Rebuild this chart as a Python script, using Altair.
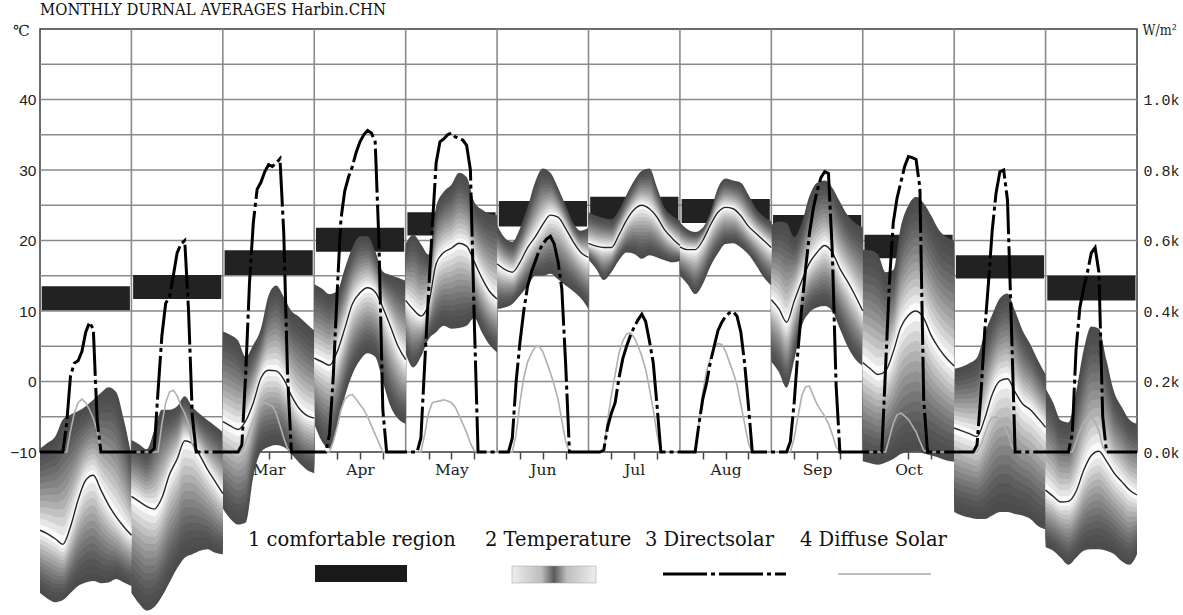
import json
import altair as alt
import pandas as pd

# ---------------- data ----------------
MONTHS = ["Jan", "Feb", "Mar", "Apr", "May", "Jun", "Jul", "Aug", "Sep", "Oct", "Nov", "Dec"]
LABELED_MONTHS = ["Mar", "Apr", "May", "Jun", "Jul", "Aug", "Sep", "Oct"]

HOURS_T = list(range(0, 25, 2))   # temperature samples (hours)
HOURS_S = list(range(0, 25))      # solar samples (hours)

TEMP_UPPER = [
    [-9.5, -8.7, -7.8, -5.4, -4.7, -4.2, -3.5, -2.6, -1.6, -0.8, -1.5, -5.4, -10.5],
    [-8.3, -8.9, -9.6, -6.9, -4.0, -4.0, -3.5, -2.1, -3.6, -4.6, -5.5, -6.3, -7.2],
    [7.1, 6.6, 5.8, 3.5, 5.2, 7.5, 12.2, 13.6, 12.0, 10.0, 9.2, 8.2, 7.2],
    [13.8, 13.2, 12.4, 12.8, 16.0, 19.0, 20.6, 20.6, 18.5, 15.6, 15.1, 14.7, 14.3],
    [19.5, 20.8, 19.5, 18.0, 24.8, 26.9, 27.9, 29.6, 29.0, 25.5, 24.4, 23.8, 23.6],
    [22.2, 20.4, 19.8, 21.7, 24.7, 28.3, 30.2, 29.6, 27.5, 25.0, 22.5, 21.4, 21.8],
    [24.0, 23.5, 23.2, 23.0, 24.3, 26.5, 28.5, 29.9, 30.2, 27.5, 24.6, 23.5, 22.8],
    [22.6, 21.6, 21.2, 21.8, 24.0, 27.5, 28.8, 28.5, 28.2, 26.5, 24.5, 23.4, 22.7],
    [22.2, 22.7, 22.5, 20.5, 22.5, 26.3, 28.2, 28.5, 27.5, 25.5, 23.6, 22.5, 21.9],
    [18.7, 18.6, 18.0, 15.5, 15.8, 22.0, 25.0, 26.2, 25.3, 23.5, 21.5, 20.5, 20.0],
    [1.8, 2.1, 2.6, 3.4, 6.8, 9.5, 11.8, 12.5, 10.0, 7.2, 5.3, 3.0, 1.0],
    [-1.0, -3.0, -5.5, -5.8, -1.5, 4.5, 7.8, 7.5, 3.0, -1.5, -3.6, -5.4, -6.0],
]
TEMP_MEAN = [
    [-21.1, -21.6, -22.3, -23.1, -20.6, -16.8, -14.0, -13.3, -15.4, -17.5, -19.2, -20.6, -21.8],
    [-16.3, -17.0, -17.7, -18.1, -16.5, -13.2, -11.0, -8.4, -8.8, -10.5, -12.5, -14.2, -15.9],
    [-5.7, -6.3, -6.8, -5.6, -3.0, 0.5, 1.6, 1.5, 0.3, -2.0, -3.8, -4.8, -5.2],
    [3.3, 2.8, 2.3, 4.2, 7.5, 11.0, 12.6, 13.3, 12.7, 10.5, 7.8, 5.0, 3.1],
    [11.5, 10.2, 9.3, 11.0, 16.7, 18.3, 18.9, 19.6, 19.2, 17.0, 14.7, 12.8, 11.7],
    [16.7, 15.9, 15.5, 16.9, 19.0, 20.5, 22.3, 23.6, 23.3, 21.7, 19.8, 18.3, 17.6],
    [19.6, 19.2, 19.0, 19.0, 20.8, 22.9, 24.4, 25.0, 24.5, 23.3, 21.5, 20.3, 19.3],
    [19.1, 18.7, 18.7, 20.0, 22.2, 24.0, 24.7, 24.5, 23.5, 22.0, 21.0, 20.0, 19.0],
    [11.6, 10.3, 8.4, 11.4, 14.3, 16.8, 18.3, 19.3, 18.3, 16.0, 14.2, 12.2, 10.0],
    [2.7, 1.8, 1.0, 1.5, 4.2, 7.7, 9.4, 10.0, 9.0, 6.5, 4.7, 3.3, 2.2],
    [-6.6, -7.0, -7.4, -7.8, -5.3, -1.8, 0.1, 0.4, -1.5, -3.2, -4.0, -5.2, -6.5],
    [-15.4, -16.3, -17.1, -17.0, -15.6, -12.6, -10.5, -9.9, -11.3, -13.0, -14.2, -15.4, -16.1],
]
TEMP_LOWER = [
    [-30.0, -30.8, -31.3, -31.0, -30.0, -29.0, -28.5, -28.3, -28.6, -28.5, -28.0, -28.5, -29.0],
    [-30.0, -31.5, -32.5, -32.0, -30.5, -28.5, -26.5, -25.0, -24.5, -24.0, -23.8, -24.3, -24.5],
    [-18.0, -19.5, -20.3, -20.0, -13.5, -10.0, -9.3, -9.0, -9.3, -10.3, -11.5, -12.5, -13.0],
    [-6.0, -8.5, -9.5, -6.5, -2.2, 1.0, 3.0, 4.0, 3.5, 0.0, -3.5, -5.3, -6.0],
    [4.0, 2.0, 3.5, 6.0, 7.0, 7.9, 7.5, 7.6, 7.9, 9.0, 7.0, 5.2, 4.1],
    [10.3, 10.5, 11.0, 12.2, 13.5, 15.0, 15.0, 15.3, 14.5, 13.6, 12.8, 11.8, 10.3],
    [17.3, 16.0, 14.4, 15.5, 17.2, 18.3, 18.1, 17.4, 17.9, 17.6, 17.2, 16.9, 17.1],
    [15.0, 13.8, 12.4, 13.8, 16.3, 18.2, 19.5, 19.6, 19.0, 18.0, 16.5, 14.8, 13.6],
    [2.8, 1.3, -0.9, 3.0, 7.9, 9.8, 10.5, 10.7, 10.0, 7.5, 5.0, 3.2, 2.2],
    [-11.3, -11.6, -11.8, -11.5, -11.0, -10.3, -10.0, -9.9, -10.2, -10.5, -10.8, -11.2, -11.4],
    [-18.5, -19.0, -19.3, -19.5, -19.5, -19.0, -18.5, -18.5, -18.8, -19.0, -19.5, -20.5, -21.0],
    [-23.5, -24.0, -25.0, -26.0, -25.0, -24.0, -23.8, -23.8, -24.0, -24.5, -25.5, -26.0, -24.5],
]
COMFORT_LOW = [10.1, 11.7, 15.1, 18.4, 20.7, 22.0, 22.9, 22.5, 20.2, 17.5, 14.6, 11.5]
COMFORT_HIGH = [13.5, 15.1, 18.6, 21.8, 24.0, 25.6, 26.2, 25.9, 23.6, 20.8, 17.9, 15.0]

DIRECT_SOLAR = [
    [0, 0, 0, 0, 0, 0, 0, 80, 215, 252, 259, 285, 340, 368, 348, 90, 0, 0, 0, 0, 0, 0, 0, 0, 0],
    [0, 0, 0, 0, 0, 0, 10, 175, 330, 422, 440, 500, 565, 590, 600, 400, 100, 0, 0, 0, 0, 0, 0, 0, 0],
    [0, 0, 0, 0, 0, 20, 220, 480, 650, 745, 765, 795, 815, 810, 820, 832, 620, 215, 0, 0, 0, 0, 0, 0, 0],
    [0, 0, 0, 0, 50, 215, 450, 660, 740, 780, 810, 850, 880, 900, 912, 905, 880, 590, 120, 0, 0, 0, 0, 0, 0],
    [0, 0, 0, 0, 40, 250, 450, 640, 820, 880, 888, 900, 905, 894, 890, 885, 870, 800, 380, 0, 0, 0, 0, 0, 0],
    [0, 0, 0, 0, 40, 200, 310, 400, 470, 510, 540, 570, 590, 604, 612, 590, 540, 462, 250, 0, 0, 0, 0, 0, 0],
    [0, 0, 0, 0, 5, 70, 110, 140, 210, 265, 300, 330, 355, 375, 391, 370, 315, 253, 130, 0, 0, 0, 0, 0, 0],
    [0, 0, 0, 0, 0, 80, 150, 196, 255, 300, 345, 368, 385, 395, 398, 385, 340, 250, 130, 0, 0, 0, 0, 0, 0],
    [0, 0, 0, 0, 0, 30, 140, 290, 410, 520, 620, 690, 740, 778, 795, 790, 570, 190, 0, 0, 0, 0, 0, 0, 0],
    [0, 0, 0, 0, 0, 0, 240, 480, 650, 720, 765, 810, 838, 835, 830, 750, 150, 0, 0, 0, 0, 0, 0, 0, 0],
    [0, 0, 0, 0, 0, 0, 20, 160, 340, 480, 630, 735, 795, 800, 715, 370, 0, 0, 0, 0, 0, 0, 0, 0, 0],
    [0, 0, 0, 0, 0, 0, 0, 50, 290, 410, 465, 510, 565, 580, 510, 100, 0, 0, 0, 0, 0, 0, 0, 0, 0],
]
DIFFUSE_SOLAR = [
    [0, 0, 0, 0, 0, 0, 0, 0, 60, 110, 140, 150, 140, 120, 95, 60, 0, 0, 0, 0, 0, 0, 0, 0, 0],
    [0, 0, 0, 0, 0, 0, 0, 0, 80, 140, 170, 175, 160, 130, 110, 80, 20, 0, 0, 0, 0, 0, 0, 0, 0],
    [0, 0, 0, 0, 0, 0, 30, 60, 90, 115, 135, 140, 135, 130, 110, 75, 40, 10, 0, 0, 0, 0, 0, 0, 0],
    [0, 0, 0, 0, 0, 30, 70, 120, 150, 160, 163, 150, 135, 120, 100, 75, 50, 25, 0, 0, 0, 0, 0, 0, 0],
    [0, 0, 0, 0, 0, 50, 110, 140, 143, 145, 148, 145, 140, 128, 105, 80, 55, 25, 3, 0, 0, 0, 0, 0, 0],
    [0, 0, 0, 0, 0, 50, 140, 210, 255, 280, 298, 300, 285, 255, 225, 190, 150, 90, 30, 0, 0, 0, 0, 0, 0],
    [0, 0, 0, 0, 0, 90, 160, 220, 280, 315, 335, 338, 325, 300, 272, 235, 180, 120, 50, 0, 0, 0, 0, 0, 0],
    [0, 0, 0, 0, 0, 80, 170, 230, 265, 295, 308, 305, 285, 255, 225, 190, 135, 80, 25, 0, 0, 0, 0, 0, 0],
    [0, 0, 0, 0, 0, 0, 40, 100, 160, 185, 187, 160, 135, 118, 102, 80, 50, 15, 0, 0, 0, 0, 0, 0, 0],
    [0, 0, 0, 0, 0, 0, 0, 40, 80, 105, 111, 102, 92, 75, 57, 30, 5, 0, 0, 0, 0, 0, 0, 0, 0],
    [0, 0, 0, 0, 0, 0, 0, 20, 50, 80, 98, 100, 90, 75, 55, 20, 0, 0, 0, 0, 0, 0, 0, 0, 0],
    [0, 0, 0, 0, 0, 0, 0, 0, 30, 60, 85, 100, 100, 85, 60, 15, 0, 0, 0, 0, 0, 0, 0, 0, 0],
]

GRID_T = [-5, 0, 5, 10, 15, 20, 25, 30, 35, 40, 45]
TEMP_TICKS = [-10, 0, 10, 20, 30, 40]
SOLAR_TICKS = [0, 200, 400, 600, 800, 1000]
TITLE = "MONTHLY DURNAL AVERAGES Harbin.CHN"
LEGEND_LABELS = ["1 comfortable region", "2 Temperature", "3 Directsolar", "4 Diffuse Solar"]

# ---------------- layout / style ----------------
W, H = 1097, 423
SERIF_C = "'DejaVu Serif Condensed', 'Liberation Serif', serif"
SERIF = "'DejaVu Serif', 'Liberation Serif', serif"
GRID_COLOR = "#8a8a8a"
N_LEVELS = 14
LEGEND_TEXT_X = [208, 445, 605, 760]
LEGEND_TEXT_Y = 511
DASH = [44, 4, 4, 4]

# ---------------- tables ----------------
temp_rows = []
for m in range(12):
    for i, h in enumerate(HOURS_T):
        temp_rows.append({"month": MONTHS[m], "t": m * 24 + h,
                          "upper": TEMP_UPPER[m][i], "mean": TEMP_MEAN[m][i],
                          "lower": TEMP_LOWER[m][i]})
temp_df = pd.DataFrame(temp_rows)

solar_rows = []
for m in range(12):
    for i, h in enumerate(HOURS_S):
        solar_rows.append({"month": MONTHS[m], "t": m * 24 + h,
                           "direct": DIRECT_SOLAR[m][i], "diffuse": DIFFUSE_SOLAR[m][i]})
solar_df = pd.DataFrame(solar_rows)

comfort_df = pd.DataFrame({
    "month": MONTHS,
    "x0": [m * 24 + 0.45 for m in range(12)],
    "x1": [m * 24 + 23.6 for m in range(12)],
    "lo": COMFORT_LOW,
    "hi": COMFORT_HIGH,
})

xs = alt.Scale(domain=[0, 288], nice=False, zero=False)
ts = alt.Scale(domain=[-10, 50], nice=False, zero=False)
ss = alt.Scale(domain=[0, 1200], nice=False, zero=False)

months_js = json.dumps(MONTHS)
shown_js = json.dumps(LABELED_MONTHS)
x_label_expr = (f"datum.value % 24 == 12 && indexof({shown_js}, {months_js}[floor(datum.value / 24)]) >= 0"
                f" ? {months_js}[floor(datum.value / 24)] : ''")
x_tick_values = [t for t in range(0, 289, 6) if t % 24 != 0]

# horizontal grid lines, carrying the left (°C) axis
hgrid = alt.Chart(pd.DataFrame({"v": GRID_T})).mark_rule(
    color=GRID_COLOR, strokeWidth=1.6
).encode(
    y=alt.Y("v:Q", scale=ts, axis=alt.Axis(
        values=TEMP_TICKS, title="℃", titleAngle=0, titleX=-19, titleY=1,
        titleAlign="center", titleBaseline="middle", titleFont=SERIF, titleFontSize=15,
        titleFontWeight="normal", titleColor="#222", zindex=1,
        grid=False, ticks=False, domain=False, labelPadding=4,
        labelFont="Liberation Sans", labelFontSize=15.5, labelColor="#222", labelOverlap=False))
)

# month separators, carrying the hour ticks and month labels
vgrid = alt.Chart(pd.DataFrame({"t": [24 * i for i in range(1, 12)]})).mark_rule(
    color=GRID_COLOR, strokeWidth=1.6
).encode(
    x=alt.X("t:Q", scale=xs, axis=alt.Axis(
        orient="bottom", values=x_tick_values, labelExpr=x_label_expr, title=None, grid=False,
        domain=False, ticks=True, tickSize=7, tickColor="#444", tickWidth=1.5, labelPadding=3,
        zindex=0, labelFont=SERIF, labelFontSize=15.5, labelColor="#222", labelOverlap=False,
        labelFlush=False))
)

comfort = alt.Chart(comfort_df).mark_rect(color="#222222").encode(
    x=alt.X("x0:Q", scale=xs, axis=None), x2="x1:Q",
    y=alt.Y("lo:Q", scale=ts, axis=None), y2="hi:Q",
)

bands = []
for k in range(N_LEVELS):
    f = 1 - k / N_LEVELS
    frac = (k / (N_LEVELS - 1)) ** 1.5
    g = int(round(76 + (250 - 76) * frac))
    col = "#%02x%02x%02x" % (g, g, g)
    bands.append(
        alt.Chart(temp_df).transform_calculate(
            hi=f"datum.mean + {f:.4f} * (datum.upper - datum.mean)",
            lo=f"datum.mean - {f:.4f} * (datum.mean - datum.lower)",
        ).mark_area(interpolate="monotone", color=col).encode(
            x=alt.X("t:Q", scale=xs, axis=None),
            y=alt.Y("hi:Q", scale=ts, axis=None), y2="lo:Q",
            detail="month:N",
        )
    )

mean_line = alt.Chart(temp_df).mark_line(interpolate="monotone", color="#262626", strokeWidth=1.4).encode(
    x=alt.X("t:Q", scale=xs, axis=None),
    y=alt.Y("mean:Q", scale=ts, axis=None),
    detail="month:N",
)

diffuse = alt.Chart(solar_df).mark_line(color="#b0b0b0", strokeWidth=1.6).encode(
    x=alt.X("t:Q", scale=xs, axis=None),
    y=alt.Y("diffuse:Q", scale=ss, axis=None),
    detail="month:N",
)
direct = alt.Chart(solar_df).mark_line(color="#000000", strokeWidth=3, strokeDash=DASH).encode(
    x=alt.X("t:Q", scale=xs, axis=None),
    y=alt.Y("direct:Q", scale=ss, axis=alt.Axis(
        orient="right", values=SOLAR_TICKS,
        labelExpr="format(datum.value / 1000, '.1f') + 'k'",
        title="W/m²", titleAngle=0, titleX=5, titleY=1, titleAlign="left",
        titleBaseline="middle", titleFont=SERIF_C, titleFontSize=14, titleFontWeight="normal",
        titleColor="#222", grid=False, ticks=False, domain=False, labelPadding=6, zindex=1,
        labelFont="Liberation Mono", labelFontSize=15, labelColor="#222", labelOverlap=False)),
)

one = pd.DataFrame({"a": [0]})
legend_layers = []
for label, px in zip(LEGEND_LABELS, LEGEND_TEXT_X):
    legend_layers.append(
        alt.Chart(one).mark_text(align="left", baseline="middle", font=SERIF, fontSize=19.5,
                                 color="#111").encode(
            x=alt.value(px), y=alt.value(LEGEND_TEXT_Y), text=alt.value(label))
    )
legend_layers.append(
    alt.Chart(one).mark_rect(color="#1a1a1a").encode(
        x=alt.value(275), x2=alt.value(367), y=alt.value(536), y2=alt.value(553))
)
legend_layers.append(
    alt.Chart(one).mark_rect(
        fill=alt.Gradient(gradient="linear", x1=0, x2=1, y1=0, y2=0, stops=[
            alt.GradientStop(offset=0, color="#eeeeee"),
            alt.GradientStop(offset=0.35, color="#bdbdbd"),
            alt.GradientStop(offset=0.5, color="#5a5a5a"),
            alt.GradientStop(offset=0.65, color="#bdbdbd"),
            alt.GradientStop(offset=1, color="#eeeeee")]),
        stroke="#999", strokeWidth=0.5).encode(
        x=alt.value(472), x2=alt.value(556), y=alt.value(537), y2=alt.value(554))
)
legend_layers.append(
    alt.Chart(one).mark_rule(color="#000", strokeWidth=3, strokeDash=DASH).encode(
        x=alt.value(623), x2=alt.value(746), y=alt.value(545))
)
legend_layers.append(
    alt.Chart(one).mark_rule(color="#a8a8a8", strokeWidth=1.5).encode(
        x=alt.value(798), x2=alt.value(891), y=alt.value(545))
)

chart = alt.layer(
    vgrid, hgrid, comfort, *bands, mean_line, diffuse, direct, *legend_layers
).resolve_scale(x="independent", y="independent").properties(
    width=W, height=H,
    autosize=alt.AutoSizeParams(type="none"),
    padding={"left": 40, "top": 29, "right": 46, "bottom": 163},
    title=alt.TitleParams(TITLE, anchor="start", frame="group", font=SERIF_C, fontSize=16.5,
                          fontWeight="normal", color="#111", offset=5),
    background="white",
).configure_view(stroke="#3a3a3a", strokeWidth=1.5)

chart.save("out.html", embed_options={"renderer": "svg", "actions": False})
